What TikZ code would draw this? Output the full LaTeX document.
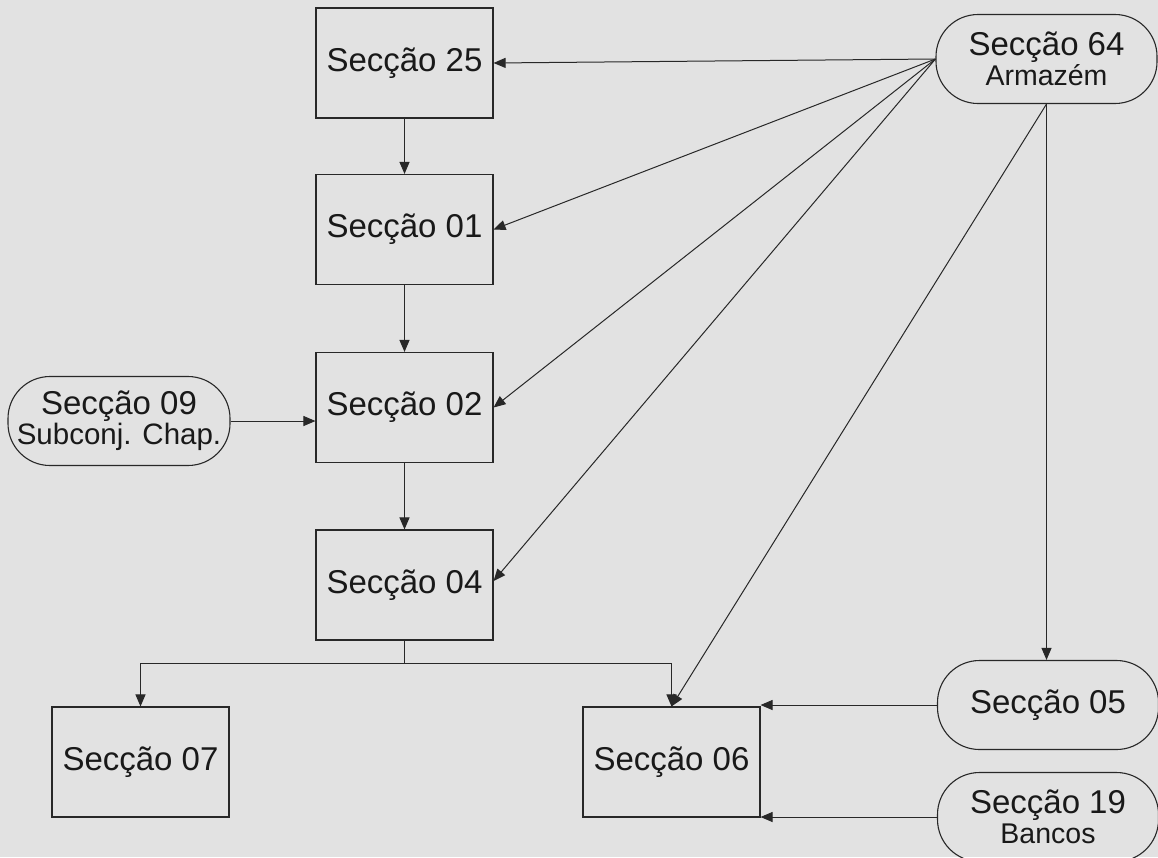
\documentclass[tikz,border=0pt]{standalone}
\usepackage{fontspec}
\setmainfont{Liberation Sans}
\usetikzlibrary{arrows.meta,calc}
\definecolor{bgcol}{RGB}{226,226,226}
\definecolor{ink}{RGB}{40,40,40}
\definecolor{txt}{RGB}{25,25,25}
\begin{document}
\begin{tikzpicture}[x=1pt,y=-1pt,
  secbox/.style={draw=ink,line width=1.1pt,rectangle,minimum width=177pt,minimum height=110pt,inner sep=0pt,text=txt,font=\fontsize{33}{36}\selectfont},
  secoval/.style={draw=ink,line width=1.1pt,rectangle,rounded corners=42pt,minimum width=221pt,minimum height=89pt,inner sep=0pt,text=txt,align=center,font=\fontsize{33}{36}\selectfont},
  sub/.style={},
  conn/.style={draw=ink,line width=1pt,-{Triangle[length=12pt,width=10pt]}},
  plain/.style={draw=ink,line width=1pt}]
\fill[bgcol] (0,0) rectangle (1158,857);
\useasboundingbox (0,0) rectangle (1158,857);

\node[secbox] (s25) at (404.5,63) {Secção 25};
\node[secbox] (s01) at (404.5,229.5) {Secção 01};
\node[secbox] (s02) at (404.5,407.5) {Secção 02};
\node[secbox] (s04) at (404.5,585) {Secção 04};
\node[secbox] (s07) at (140.5,762) {Secção 07};
\node[secbox] (s06) at (671.5,762) {Secção 06};

\node[secoval] (s64) at (1046.5,59) {Secção 64\\[-6pt]{\fontsize{28.5}{30}\selectfont Armazém}};
\node[secoval] (s05) at (1048,705) {Secção 05};
\node[secoval] (s19) at (1048,817) {Secção 19\\[-6pt]{\fontsize{28.5}{30}\selectfont Bancos}};
\node[secoval,minimum width=222pt] (s09) at (119,421) {Secção 09\\[-6pt]{\fontsize{29.5}{30}\selectfont Subconj. Chap.}};

% main chain
\draw[conn] (s25.south) -- (s01.north);
\draw[conn] (s01.south) -- (s02.north);
\draw[conn] (s02.south) -- (s04.north);
\draw[conn] (s09.east) -- (s09.east -| s02.west);

% split below 04
\coordinate (j) at ($(s04.south)+(0,23)$);
\draw[plain] (s04.south) -- (j);
\draw[conn] (j) -| (s07.north);
\draw[conn] (j) -| (s06.north);

% fan from 64
\draw[conn] (s64.west) -- (s25.east);
\draw[conn] (s64.west) -- (s01.east);
\draw[conn] (s64.west) -- (s02.east);
\draw[conn] (s64.west) -- ($(s04.east)+(0,-4)$);
\draw[conn] (s64.south) -- (s06.north);
\draw[conn] (s64.south) -- (s64.south |- s05.north);

% into 06 from right
\draw[conn] (s05.west) -- (s05.west -| s06.east);
\draw[conn] (s19.west) -- (s19.west -| s06.east);
\end{tikzpicture}
\end{document}
